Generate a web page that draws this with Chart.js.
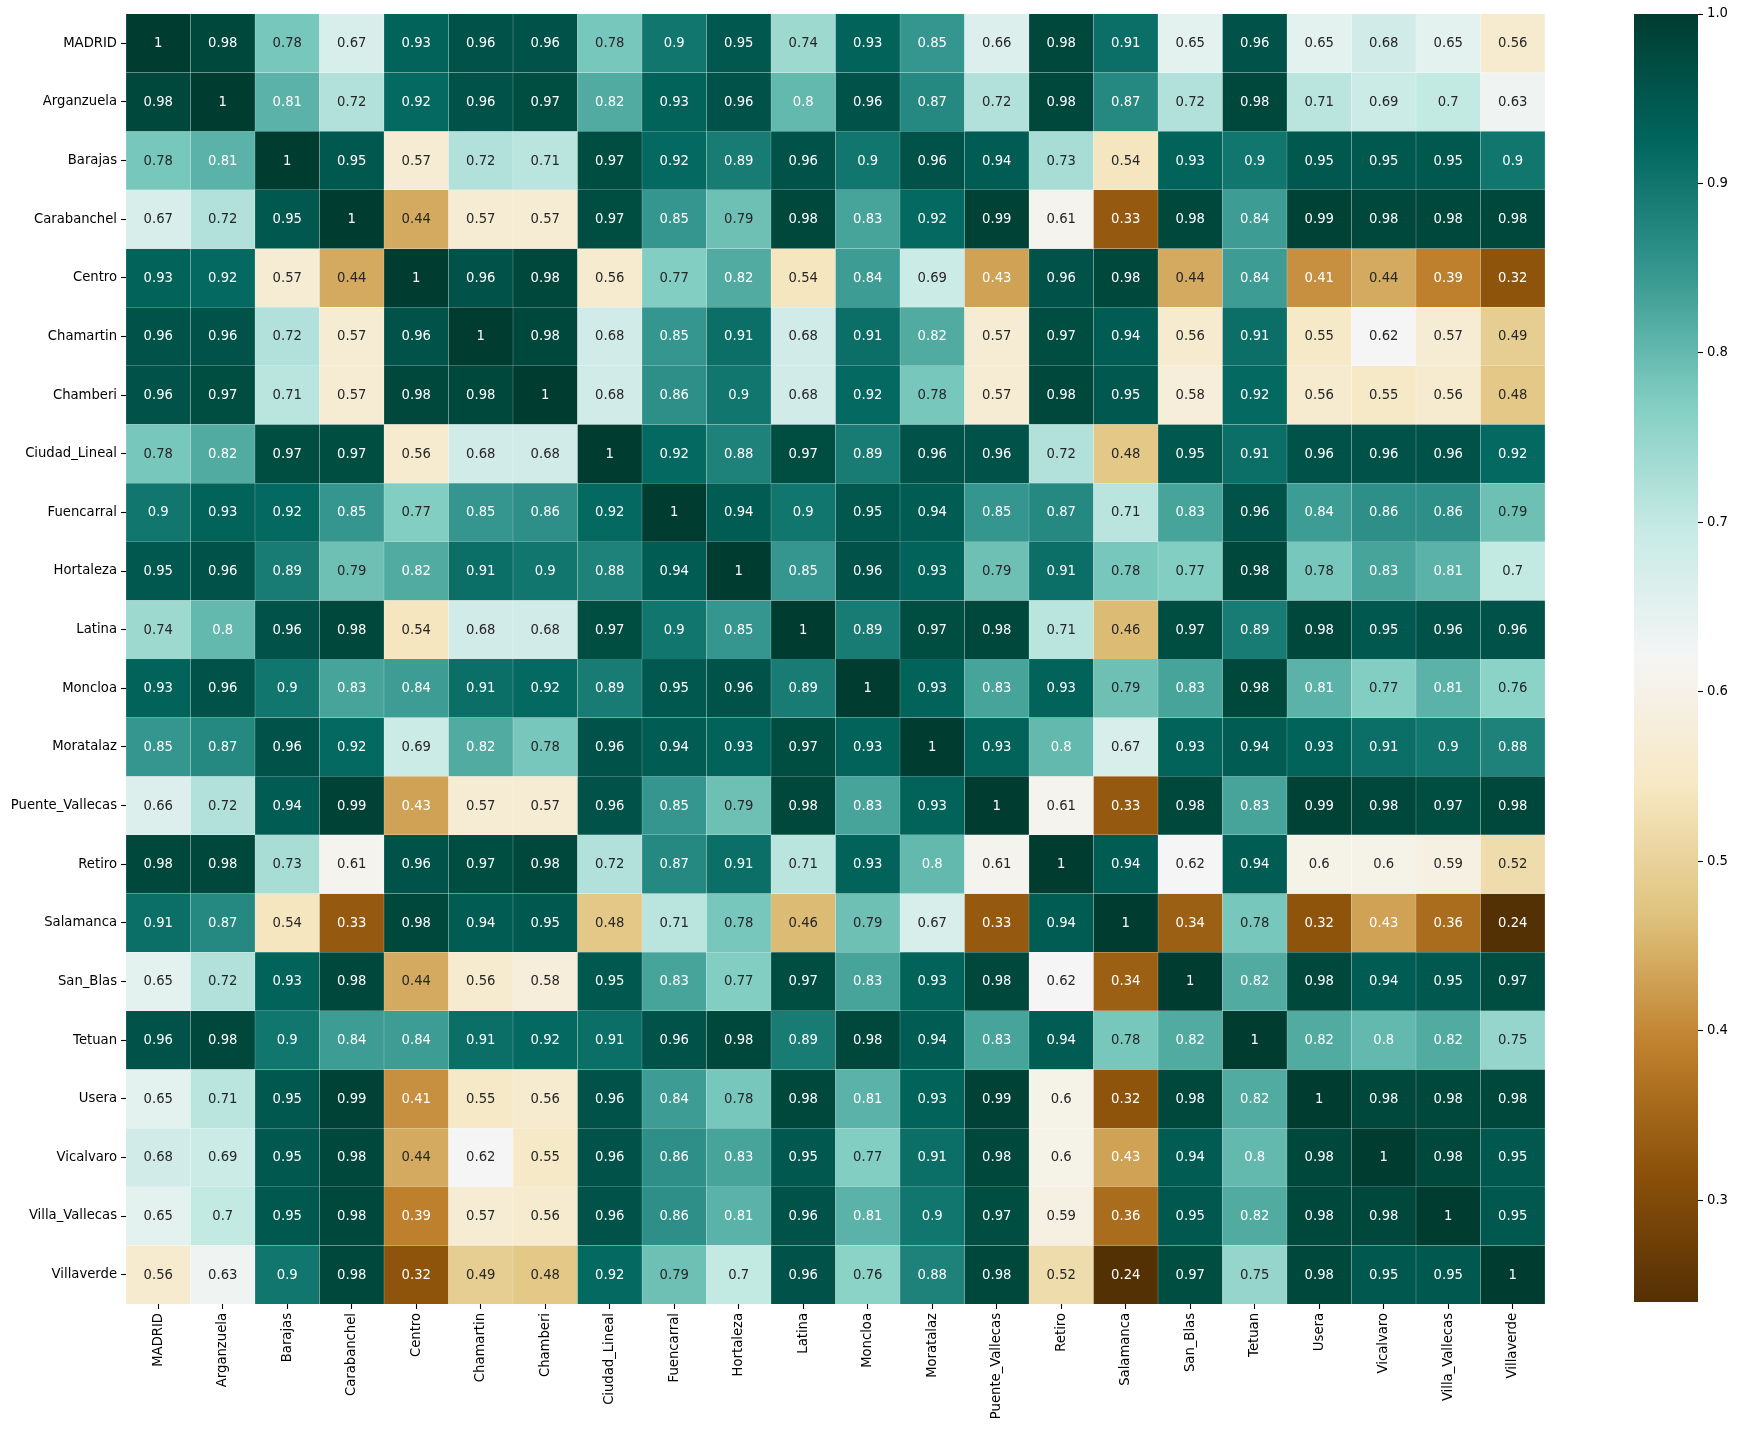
<!DOCTYPE html>
<html><head><meta charset="utf-8">
<script src="https://cdn.jsdelivr.net/npm/chart.js@4/dist/chart.umd.min.js"></script>
<style>
html,body{margin:0;padding:0;background:#fff;}
#wrap{position:relative;width:1739px;height:1430px;overflow:hidden;}
#main{position:absolute;left:0;top:0;}
#cbar{position:absolute;left:1600px;top:0;}
</style></head><body>
<div id="wrap"><canvas id="main" width="1560" height="1430"></canvas><canvas id="cbar" width="139" height="1430"></canvas></div>
<script>
const districts = ["MADRID","Arganzuela","Barajas","Carabanchel","Centro","Chamartin","Chamberi","Ciudad_Lineal","Fuencarral","Hortaleza","Latina","Moncloa","Moratalaz","Puente_Vallecas","Retiro","Salamanca","San_Blas","Tetuan","Usera","Vicalvaro","Villa_Vallecas","Villaverde"];

const MADRID        = [1,0.98,0.78,0.67,0.93,0.96,0.96,0.78,0.9,0.95,0.74,0.93,0.85,0.66,0.98,0.91,0.65,0.96,0.65,0.68,0.65,0.56];
const Arganzuela    = [0.98,1,0.81,0.72,0.92,0.96,0.97,0.82,0.93,0.96,0.8,0.96,0.87,0.72,0.98,0.87,0.72,0.98,0.71,0.69,0.7,0.63];
const Barajas       = [0.78,0.81,1,0.95,0.57,0.72,0.71,0.97,0.92,0.89,0.96,0.9,0.96,0.94,0.73,0.54,0.93,0.9,0.95,0.95,0.95,0.9];
const Carabanchel   = [0.67,0.72,0.95,1,0.44,0.57,0.57,0.97,0.85,0.79,0.98,0.83,0.92,0.99,0.61,0.33,0.98,0.84,0.99,0.98,0.98,0.98];
const Centro        = [0.93,0.92,0.57,0.44,1,0.96,0.98,0.56,0.77,0.82,0.54,0.84,0.69,0.43,0.96,0.98,0.44,0.84,0.41,0.44,0.39,0.32];
const Chamartin     = [0.96,0.96,0.72,0.57,0.96,1,0.98,0.68,0.85,0.91,0.68,0.91,0.82,0.57,0.97,0.94,0.56,0.91,0.55,0.62,0.57,0.49];
const Chamberi      = [0.96,0.97,0.71,0.57,0.98,0.98,1,0.68,0.86,0.9,0.68,0.92,0.78,0.57,0.98,0.95,0.58,0.92,0.56,0.55,0.56,0.48];
const Ciudad_Lineal = [0.78,0.82,0.97,0.97,0.56,0.68,0.68,1,0.92,0.88,0.97,0.89,0.96,0.96,0.72,0.48,0.95,0.91,0.96,0.96,0.96,0.92];
const Fuencarral    = [0.9,0.93,0.92,0.85,0.77,0.85,0.86,0.92,1,0.94,0.9,0.95,0.94,0.85,0.87,0.71,0.83,0.96,0.84,0.86,0.86,0.79];
const Hortaleza     = [0.95,0.96,0.89,0.79,0.82,0.91,0.9,0.88,0.94,1,0.85,0.96,0.93,0.79,0.91,0.78,0.77,0.98,0.78,0.83,0.81,0.7];
const Latina        = [0.74,0.8,0.96,0.98,0.54,0.68,0.68,0.97,0.9,0.85,1,0.89,0.97,0.98,0.71,0.46,0.97,0.89,0.98,0.95,0.96,0.96];
const Moncloa       = [0.93,0.96,0.9,0.83,0.84,0.91,0.92,0.89,0.95,0.96,0.89,1,0.93,0.83,0.93,0.79,0.83,0.98,0.81,0.77,0.81,0.76];
const Moratalaz     = [0.85,0.87,0.96,0.92,0.69,0.82,0.78,0.96,0.94,0.93,0.97,0.93,1,0.93,0.8,0.67,0.93,0.94,0.93,0.91,0.9,0.88];
const Puente_Vallecas = [0.66,0.72,0.94,0.99,0.43,0.57,0.57,0.96,0.85,0.79,0.98,0.83,0.93,1,0.61,0.33,0.98,0.83,0.99,0.98,0.97,0.98];
const Retiro        = [0.98,0.98,0.73,0.61,0.96,0.97,0.98,0.72,0.87,0.91,0.71,0.93,0.8,0.61,1,0.94,0.62,0.94,0.6,0.6,0.59,0.52];
const Salamanca     = [0.91,0.87,0.54,0.33,0.98,0.94,0.95,0.48,0.71,0.78,0.46,0.79,0.67,0.33,0.94,1,0.34,0.78,0.32,0.43,0.36,0.24];
const San_Blas      = [0.65,0.72,0.93,0.98,0.44,0.56,0.58,0.95,0.83,0.77,0.97,0.83,0.93,0.98,0.62,0.34,1,0.82,0.98,0.94,0.95,0.97];
const Tetuan        = [0.96,0.98,0.9,0.84,0.84,0.91,0.92,0.91,0.96,0.98,0.89,0.98,0.94,0.83,0.94,0.78,0.82,1,0.82,0.8,0.82,0.75];
const Usera         = [0.65,0.71,0.95,0.99,0.41,0.55,0.56,0.96,0.84,0.78,0.98,0.81,0.93,0.99,0.6,0.32,0.98,0.82,1,0.98,0.98,0.98];
const Vicalvaro     = [0.68,0.69,0.95,0.98,0.44,0.62,0.55,0.96,0.86,0.83,0.95,0.77,0.91,0.98,0.6,0.43,0.94,0.8,0.98,1,0.98,0.95];
const Villa_Vallecas = [0.65,0.7,0.95,0.98,0.39,0.57,0.56,0.96,0.86,0.81,0.96,0.81,0.9,0.97,0.59,0.36,0.95,0.82,0.98,0.98,1,0.95];
const Villaverde    = [0.56,0.63,0.9,0.98,0.32,0.49,0.48,0.92,0.79,0.7,0.96,0.76,0.88,0.98,0.52,0.24,0.97,0.75,0.98,0.95,0.95,1];

const colorbarTicks = [0.3,0.4,0.5,0.6,0.7,0.8,0.9,1.0];

const matrix = [MADRID,Arganzuela,Barajas,Carabanchel,Centro,Chamartin,Chamberi,Ciudad_Lineal,Fuencarral,Hortaleza,Latina,Moncloa,Moratalaz,Puente_Vallecas,Retiro,Salamanca,San_Blas,Tetuan,Usera,Vicalvaro,Villa_Vallecas,Villaverde];

const BrBG = ["#543005","#8c510a","#bf812d","#dfc27d","#f6e8c3","#f5f5f5","#c7eae5","#80cdc1","#35978f","#01665e","#003c30"];
const BrBGrgb = BrBG.map(h => [1,3,5].map(k => parseInt(h.substr(k,2),16)));

const allVals = matrix.flat();
const vmin = Math.min(...allVals), vmax = Math.max(...allVals);

function cmapRGB(v){
  let t = (v - vmin) / (vmax - vmin);
  t = Math.max(0, Math.min(1, t));
  const s = t * 10; const k = Math.min(9, Math.floor(s)); const f = s - k;
  const a = BrBGrgb[k], b = BrBGrgb[k+1];
  return [0,1,2].map(c => a[c] + (b[c]-a[c]) * f);
}
function cmap(v){ const c = cmapRGB(v); return `rgb(${c[0].toFixed(1)},${c[1].toFixed(1)},${c[2].toFixed(1)})`; }
function lum(rgb){
  const l = rgb.map(c => { c /= 255; return c <= 0.03928 ? c/12.92 : Math.pow((c+0.055)/1.055, 2.4); });
  return 0.2126*l[0] + 0.7152*l[1] + 0.0722*l[2];
}
function fmt(v){ return String(parseFloat(v.toPrecision(2))); }

const FONT = '"DejaVu Sans", "Liberation Sans", sans-serif';
const FS = 13.2;
Chart.defaults.font.family = FONT;
Chart.defaults.font.size = FS;
Chart.defaults.color = '#000';

const datasets = matrix.map((row, i) => ({
  label: districts[i],
  data: row.map(() => [i, i + 1]),
  backgroundColor: row.map(v => cmap(v)),
  borderColor: 'rgba(255,255,255,0.08)',
  borderWidth: 0.5,
  borderSkipped: false,
  barPercentage: 1,
  categoryPercentage: 1,
  grouped: false,
  inflateAmount: 0.4
}));

const annotPlugin = {
  id: 'annot',
  afterDatasetsDraw(chart){
    const ctx = chart.ctx;
    ctx.save();
    ctx.font = `${FS}px ${FONT}`;
    ctx.textAlign = 'center';
    ctx.textBaseline = 'middle';
    chart.data.datasets.forEach((ds, i) => {
      const meta = chart.getDatasetMeta(i);
      meta.data.forEach((el, j) => {
        const v = matrix[i][j];
        ctx.fillStyle = lum(cmapRGB(v)) > 0.408 ? '#262626' : '#ffffff';
        ctx.fillText(fmt(v), el.x, (el.y + el.base) / 2 + 0.5);
      });
    });
    ctx.restore();
  }
};

new Chart(document.getElementById('main'), {
  type: 'bar',
  data: { labels: districts, datasets },
  options: {
    responsive: false,
    devicePixelRatio: 1,
    animation: false,
    layout: { padding: { top: 14, right: 15, left: 0, bottom: 0 } },
    plugins: { legend: { display: false }, tooltip: { enabled: false } },
    scales: {
      x: {
        type: 'category',
        offset: true,
        grid: { offset: false, drawOnChartArea: false, drawTicks: true, tickLength: 5, tickWidth: 1.1, tickColor: '#000' },
        border: { display: false },
        ticks: { maxRotation: 90, minRotation: 90, padding: 4, autoSkip: false, color: '#000', font: { size: FS } },
        afterFit(scale){ scale.height = 126; }
      },
      y: {
        type: 'linear',
        min: 0, max: districts.length,
        reverse: true,
        grid: { drawOnChartArea: false, drawTicks: true, tickLength: 5, tickWidth: 1.1, tickColor: '#000' },
        border: { display: false },
        afterBuildTicks(scale){ scale.ticks = districts.map((d, i) => ({ value: i + 0.5 })); },
        ticks: { padding: 4, autoSkip: false, color: '#000', font: { size: FS },
          callback: (v) => districts[Math.floor(v)] },
        afterFit(scale){ scale.width = 126; }
      }
    }
  },
  plugins: [annotPlugin]
});

new Chart(document.getElementById('cbar'), {
  type: 'bar',
  data: {
    labels: ['cb'],
    datasets: [{
      data: [[vmin, vmax]],
      backgroundColor(context){
        const chart = context.chart;
        const ys = chart.scales.y;
        if (!ys || !chart.chartArea) return BrBG[5];
        const g = chart.ctx.createLinearGradient(0, ys.getPixelForValue(vmin), 0, ys.getPixelForValue(vmax));
        BrBG.forEach((c, k) => g.addColorStop(k / 10, c));
        return g;
      },
      borderWidth: 0,
      barPercentage: 1,
      categoryPercentage: 1
    }]
  },
  options: {
    responsive: false,
    devicePixelRatio: 1,
    animation: false,
    layout: { padding: { top: 14, right: 0, left: 34, bottom: 128 } },
    plugins: { legend: { display: false }, tooltip: { enabled: false } },
    scales: {
      x: { display: false },
      y: {
        type: 'linear',
        position: 'right',
        min: vmin, max: vmax,
        grid: { drawOnChartArea: false, drawTicks: true, tickLength: 5, tickWidth: 1.1, tickColor: '#000' },
        border: { display: false },
        afterBuildTicks(scale){ scale.ticks = colorbarTicks.map(v => ({ value: v })); },
        ticks: { padding: 4, color: '#000', font: { size: FS }, callback: (v) => Number(v).toFixed(1) },
        afterFit(scale){ scale.width = 41; }
      }
    }
  }
});
</script>
</body></html>
